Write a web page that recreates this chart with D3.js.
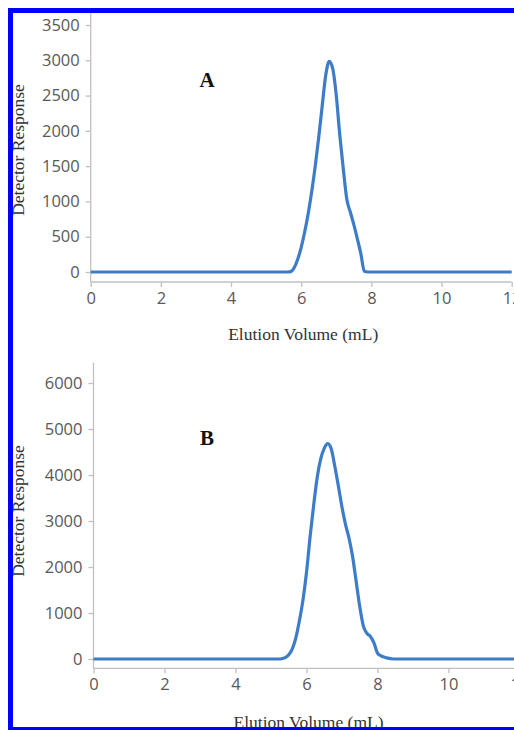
<!DOCTYPE html>
<html><head><meta charset="utf-8">
<script src="https://cdn.jsdelivr.net/npm/d3@7/dist/d3.min.js"></script>
<style>body{margin:0;background:#fff}svg{display:block}</style>
</head><body>
<svg id="c" width="514" height="730"></svg>
<script>
// ---- data ----
const volumeA   = [0, 5.5, 5.6, 5.7, 5.8, 5.9, 6.0, 6.1, 6.2, 6.3, 6.4, 6.5, 6.6, 6.7, 6.8, 6.9, 7.0, 7.1, 7.2, 7.3, 7.4, 7.5, 7.6, 7.7, 7.8, 7.9, 12];
const responseA = [0, 0, 0, 5, 60, 180, 350, 570, 830, 1140, 1500, 1910, 2360, 2790, 2985, 2880, 2500, 1940, 1460, 1030, 850, 670, 470, 260, 10, 0, 0];
const volumeB   = [0, 5.2, 5.3, 5.4, 5.5, 5.6, 5.7, 5.8, 5.9, 6.0, 6.1, 6.2, 6.3, 6.4, 6.5, 6.6, 6.7, 6.8, 6.9, 7.0, 7.1, 7.2, 7.3, 7.4, 7.5, 7.6, 7.7, 7.8, 7.9, 8.0, 8.1, 8.2, 8.3, 8.4, 8.5, 12];
const responseB = [0, 0, 5, 30, 90, 220, 460, 830, 1280, 1880, 2650, 3330, 3940, 4350, 4580, 4680, 4560, 4180, 3750, 3300, 2920, 2620, 2220, 1680, 1140, 720, 560, 490, 350, 130, 70, 40, 20, 5, 0, 0];
const xTicks  = [0, 2, 4, 6, 8, 10, 12];
const yTicksA = [0, 500, 1000, 1500, 2000, 2500, 3000, 3500];
const yTicksB = [0, 1000, 2000, 3000, 4000, 5000, 6000];
const panelLabels = ["A", "B"];
const xTitle = "Elution Volume (mL)";
const yTitle = "Detector Response";

// ---- layout ----
const panels = [
  {vol: volumeA, resp: responseA, ticks: yTicksA, yMax: 3500, label: panelLabels[0],
   xr: [90.7, 511.7], yr: [272, 25], yExt: [-142, 3670], labelPos: [207, 86.5], yTitleY: 150, xTitleY: 340},
  {vol: volumeB, resp: responseB, ticks: yTicksB, yMax: 6000, label: panelLabels[1],
   xr: [93.5, 519.5], yr: [659, 383], yExt: [-202, 6440], labelPos: [207, 445], yTitleY: 511, xTitleY: 728}
];

const svg = d3.select("#c");
const axisColor = "#c0c0c0", tickText = "#595959", lineColor = "#3d7cc9";

panels.forEach(p => {
  const x = d3.scaleLinear().domain([0, 12]).range(p.xr);
  const y = d3.scaleLinear().domain([0, p.yMax]).range(p.yr);
  const g = svg.append("g");
  const yBottom = y(p.yExt[0]), yTop = y(p.yExt[1]);

  const xa = g.append("g").attr("transform", `translate(0,${yBottom})`)
    .call(d3.axisBottom(x).tickValues(xTicks).tickSize(5).tickPadding(5).tickFormat(d3.format("d")));
  xa.select(".domain").attr("d", `M${x.range()[0]},0H${Math.min(x(12), 514)}`);
  const ya = g.append("g").attr("transform", `translate(${x(0)},0)`)
    .call(d3.axisLeft(y).tickValues(p.ticks).tickSize(5).tickPadding(6).tickFormat(d3.format("d")));
  ya.select(".domain").attr("d", `M0,${yTop}V${yBottom}`);

  [xa, ya].forEach(a => {
    a.selectAll(".domain").attr("stroke", axisColor).attr("stroke-width", 1.3);
    a.selectAll(".tick line").attr("stroke", axisColor).attr("stroke-width", 1.3);
    a.selectAll("text").attr("fill", tickText).style("font-family", "'Open Sans', sans-serif").style("font-size", "16.5px");
  });

  const line = d3.line().x((d, i) => x(p.vol[i])).y(d => y(d)).curve(d3.curveMonotoneX);
  g.append("path").datum(p.resp).attr("d", line)
    .attr("fill", "none").attr("stroke", lineColor).attr("stroke-width", 3.2).attr("stroke-linejoin", "round");

  g.append("text").attr("x", p.labelPos[0]).attr("y", p.labelPos[1]).attr("text-anchor", "middle")
    .style("font-family", "'Liberation Serif', 'Times New Roman', serif").style("font-weight", "bold").style("font-size", "21px")
    .attr("fill", "#111").text(p.label);

  g.append("text").attr("x", (x.range()[0] + x(12)) / 2 + 2).attr("y", p.xTitleY).attr("text-anchor", "middle")
    .style("font-family", "'Liberation Serif', 'Times New Roman', serif").style("font-size", "17.5px").attr("fill", "#333").text(xTitle);
  g.append("text").attr("transform", `translate(24,${p.yTitleY}) rotate(-90)`).attr("text-anchor", "middle")
    .style("font-family", "'Liberation Serif', 'Times New Roman', serif").style("font-size", "17.5px").attr("fill", "#333").text(yTitle);
});

// blue frame
svg.append("rect").attr("x", 8).attr("y", 8).attr("width", 506).attr("height", 5).attr("fill", "#0000ff");
svg.append("rect").attr("x", 8).attr("y", 8).attr("width", 5).attr("height", 722).attr("fill", "#0000ff");
svg.append("rect").attr("x", 8).attr("y", 727).attr("width", 506).attr("height", 3).attr("fill", "#0000ff");
</script>
</body></html>
